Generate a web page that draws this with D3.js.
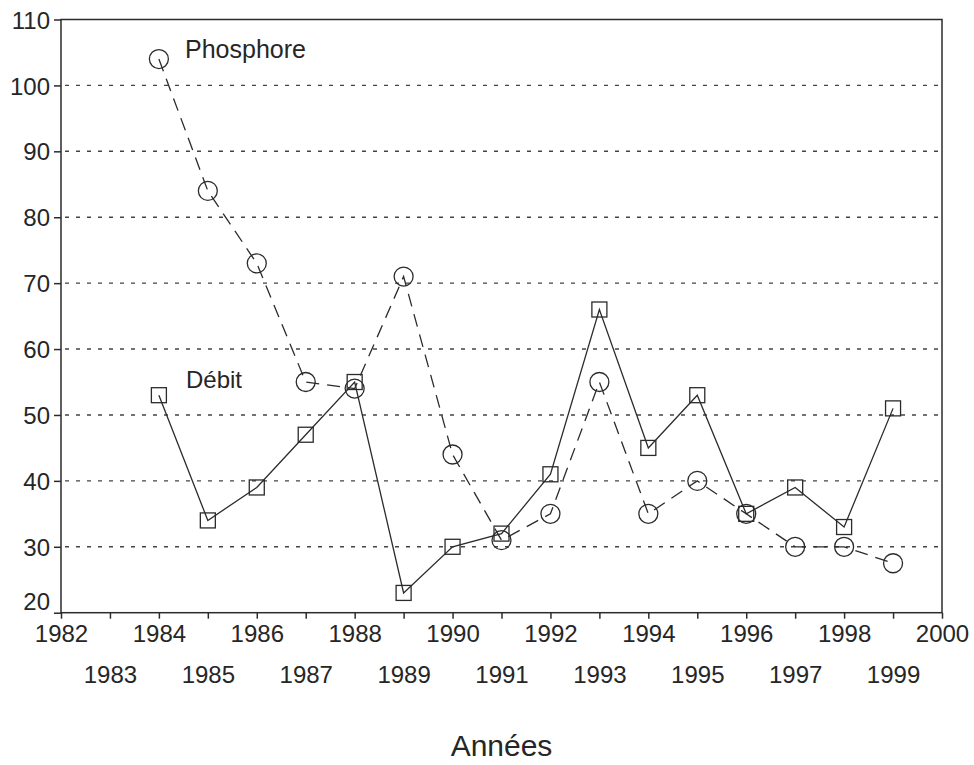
<html>
<head>
<meta charset="utf-8">
<script src="https://d3js.org/d3.v7.min.js"></script>
<style>
  body { margin: 0; background: #fff; }
  text { font-family: "Liberation Sans", Arial, sans-serif; fill: #262626; }
</style>
</head>
<body>
<svg width="974" height="765"></svg>
<script>
// data
var years = [1984, 1985, 1986, 1987, 1988, 1989, 1990, 1991, 1992, 1993, 1994, 1995, 1996, 1997, 1998, 1999];
var phosphore = [104, 84, 73, 55, 54, 71, 44, 31, 35, 55, 35, 40, 35, 30, 30, 27.5];
var debit = [53, 34, 39, 47, 55, 23, 30, 32, 41, 66, 45, 53, 35, 39, 33, 51];
var yTicks = [20, 30, 40, 50, 60, 70, 80, 90, 100, 110];
var gridValues = [30, 40, 50, 60, 70, 80, 90, 100];

var svg = d3.select("svg");
var ink = "#2b2b2b";

var x = d3.scaleLinear().domain([1982, 2000]).range([61, 942]);
var y = d3.scaleLinear().domain([20, 110]).range([612.7, 19.5]);

// dotted grid
svg.append("g").selectAll("line")
  .data(gridValues)
  .enter().append("line")
    .attr("x1", x(1982) + 4).attr("x2", x(2000))
    .attr("y1", function(d) { return y(d); })
    .attr("y2", function(d) { return y(d); })
    .attr("stroke", "#444")
    .attr("stroke-width", 1.4)
    .attr("stroke-dasharray", "4,7");

// frame
svg.append("rect")
  .attr("x", x(1982)).attr("y", y(110))
  .attr("width", x(2000) - x(1982)).attr("height", y(20) - y(110))
  .attr("fill", "none").attr("stroke", ink).attr("stroke-width", 1.5);

// y axis
var yAxis = svg.append("g")
  .attr("transform", "translate(" + x(1982) + ",0)")
  .call(d3.axisLeft(y).tickValues(yTicks).tickSize(7).tickPadding(4));
yAxis.select(".domain").remove();
yAxis.selectAll("line").attr("stroke", ink).attr("stroke-width", 1.5);
yAxis.selectAll("text")
  .attr("font-size", 24).attr("fill", ink)
  .attr("dy", function(d) { return d === 20 ? "-0.15em" : "0.36em"; });

// x axis, odd years on a second row
var xAxis = svg.append("g")
  .attr("transform", "translate(0," + y(20) + ")")
  .call(d3.axisBottom(x).tickValues(d3.range(1982, 2001)).tickFormat(d3.format("d")).tickSize(6).tickPadding(6));
xAxis.select(".domain").remove();
xAxis.selectAll("line").attr("stroke", ink).attr("stroke-width", 1.5);
xAxis.selectAll("text")
  .attr("font-size", 24)
  .attr("fill", ink)
  .attr("y", function(d) { return d % 2 === 0 ? 12 : 53; });

// lines
var line = d3.line()
  .x(function(d) { return x(d[0]); })
  .y(function(d) { return y(d[1]); });

var phData = years.map(function(yr, i) { return [yr, phosphore[i]]; });
var deData = years.map(function(yr, i) { return [yr, debit[i]]; });

svg.append("path")
  .datum(phData)
  .attr("d", line)
  .attr("fill", "none")
  .attr("stroke", ink)
  .attr("stroke-width", 1.3)
  .attr("stroke-dasharray", "13,8");

svg.append("path")
  .datum(deData)
  .attr("d", line)
  .attr("fill", "none")
  .attr("stroke", ink)
  .attr("stroke-width", 1.3);

// markers
svg.append("g").selectAll("circle")
  .data(phData)
  .enter().append("circle")
    .attr("cx", function(d) { return x(d[0]); })
    .attr("cy", function(d) { return y(d[1]); })
    .attr("r", 9.5)
    .attr("fill", "none")
    .attr("stroke", ink)
    .attr("stroke-width", 1.3);

svg.append("g").selectAll("rect")
  .data(deData)
  .enter().append("rect")
    .attr("x", function(d) { return x(d[0]) - 7.5; })
    .attr("y", function(d) { return y(d[1]) - 7.5; })
    .attr("width", 15).attr("height", 15)
    .attr("fill", "none")
    .attr("stroke", ink)
    .attr("stroke-width", 1.3);

// series labels
svg.append("text").attr("x", 185).attr("y", 58).attr("font-size", 25).text("Phosphore");
svg.append("text").attr("x", 186).attr("y", 388).attr("font-size", 24).text("Débit");

// axis title
svg.append("text")
  .attr("x", (x(1982) + x(2000)) / 2).attr("y", 756)
  .attr("text-anchor", "middle")
  .attr("font-size", 30)
  .text("Années");
</script>
</body>
</html>
